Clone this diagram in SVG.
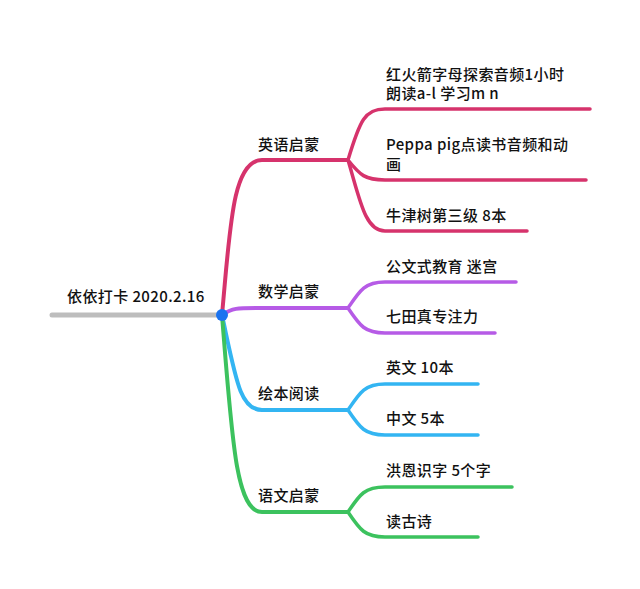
<svg xmlns="http://www.w3.org/2000/svg" width="640" height="589" viewBox="0 0 640 589">
<style>
text{font-family:"Noto Sans CJK SC","Liberation Sans",sans-serif;font-size:15px;font-weight:500;letter-spacing:0.4px;fill:#111}
.l{fill:none;stroke-linecap:round}
.t{stroke-width:4}
.c{stroke-width:3.5}
</style>
<rect width="640" height="589" fill="#fff"/>
<g id="connectors">
<path class="l" d="M52 315H222" stroke="#bdbdbd" stroke-width="5"/>
<path class="l t" stroke="#d6336c" d="M222 315C230 230 232 160 262 160H348"/>
<path class="l t" stroke="#b65be6" d="M222 315C232 308 236 308 262 308H348"/>
<path class="l t" stroke="#33b5f2" d="M222 315C236 380 240 410 262 410H348"/>
<path class="l t" stroke="#3cc25e" d="M222 315C232 440 236 512 262 512H348"/>
<g stroke="#d6336c" class="l c">
<path d="M348 160C360 120 365 109 385 109H590"/>
<path d="M348 160C360 175 365 180 385 180H586"/>
<path d="M348 160C360 200 365 231 385 231H527"/>
</g>
<g stroke="#b65be6" class="l c">
<path d="M348 308C360 290 365 282 385 282H516"/>
<path d="M348 308C360 326 365 333 385 333H495"/>
</g>
<g stroke="#33b5f2" class="l c">
<path d="M348 410C360 392 365 384 385 384H478"/>
<path d="M348 410C360 428 365 435 385 435H478"/>
</g>
<g stroke="#3cc25e" class="l c">
<path d="M348 512C360 494 365 487 385 487H512"/>
<path d="M348 512C360 530 365 537 385 537H478"/>
</g>
</g>
<g id="root"><text x="67" y="302">依依打卡 2020.2.16</text><circle cx="222" cy="315" r="6" fill="#1a73f0"/></g>
<g id="n1"><text x="258" y="150">英语启蒙</text></g>
<g id="n1a"><text x="386" y="80">红火箭字母探索音频1小时</text><text x="386" y="99">朗读a-l 学习m n</text></g>
<g id="n1b"><text x="386" y="150">Peppa pig点读书音频和动</text><text x="386" y="170">画</text></g>
<g id="n1c"><text x="386" y="221">牛津树第三级 8本</text></g>
<g id="n2"><text x="258" y="297">数学启蒙</text></g>
<g id="n2a"><text x="386" y="272">公文式教育 迷宫</text></g>
<g id="n2b"><text x="386" y="322">七田真专注力</text></g>
<g id="n3"><text x="258" y="399">绘本阅读</text></g>
<g id="n3a"><text x="386" y="373">英文 10本</text></g>
<g id="n3b"><text x="386" y="424">中文 5本</text></g>
<g id="n4"><text x="258" y="501">语文启蒙</text></g>
<g id="n4a"><text x="386" y="476">洪恩识字 5个字</text></g>
<g id="n4b"><text x="386" y="527">读古诗</text></g>
</svg>
